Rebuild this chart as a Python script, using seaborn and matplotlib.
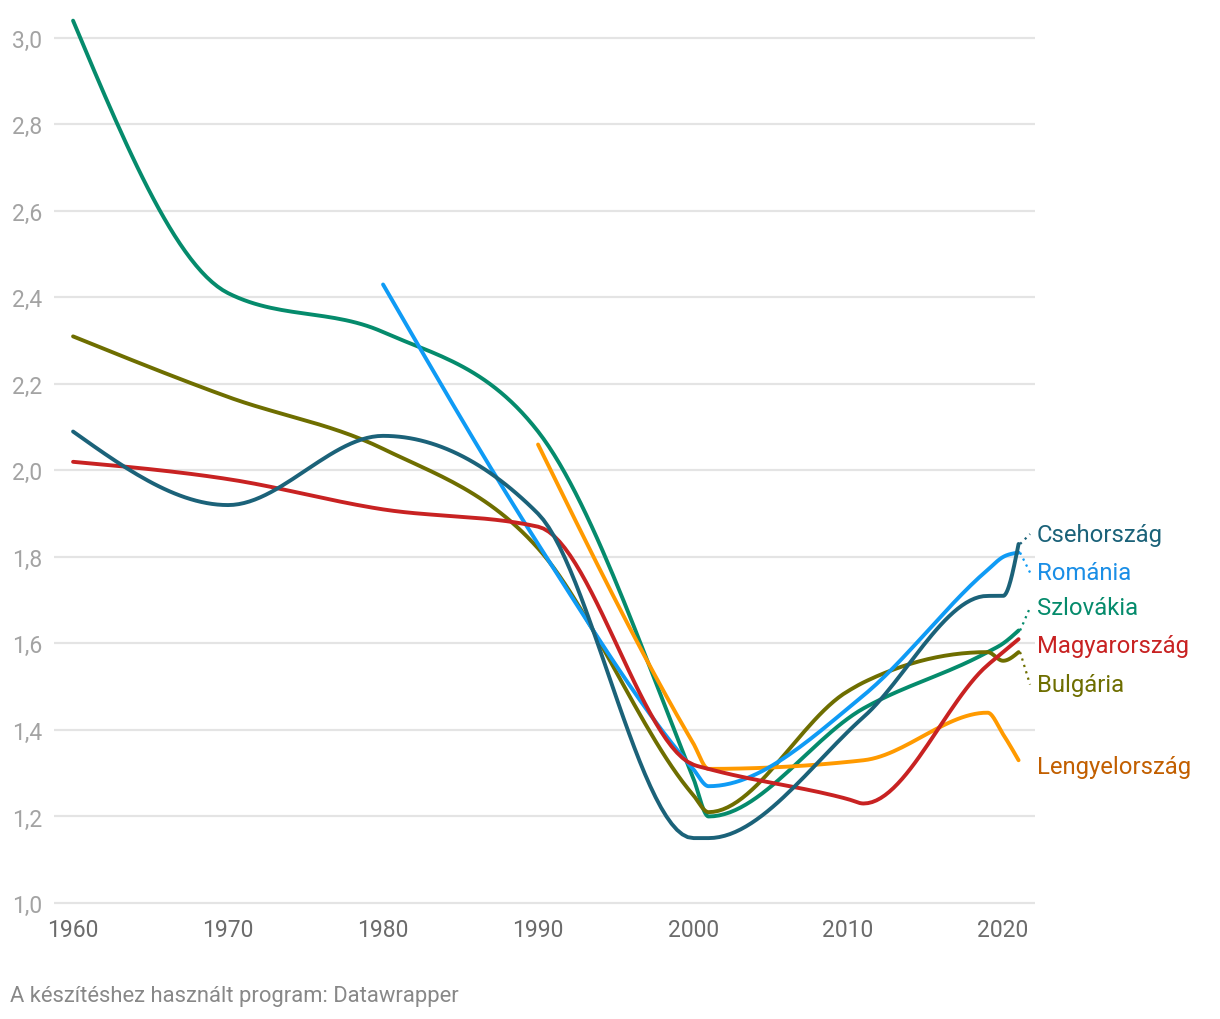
import matplotlib
matplotlib.use('Agg')
import matplotlib.pyplot as plt
import numpy as np
import pandas as pd
import seaborn as sns

# Teljes termékenységi arányszám - leolvasott értékek
years_cz = [1960, 1970, 1980, 1990, 2000, 2001, 2011, 2019, 2020, 2021]
cseh = [2.09, 1.92, 2.08, 1.90, 1.15, 1.15, 1.43, 1.71, 1.71, 1.83]

years_ro = [1980, 1990, 2000, 2001, 2011, 2019, 2020, 2021]
romania = [2.43, 1.83, 1.31, 1.27, 1.48, 1.77, 1.80, 1.81]

years_sk = [1960, 1970, 1980, 1990, 2000, 2001, 2011, 2019, 2020, 2021]
szlovakia = [3.04, 2.41, 2.32, 2.09, 1.29, 1.20, 1.45, 1.58, 1.60, 1.63]

years_hu = [1960, 1970, 1980, 1990, 2000, 2001, 2010, 2011, 2019, 2020, 2021]
magyar = [2.02, 1.98, 1.91, 1.87, 1.32, 1.31, 1.24, 1.23, 1.55, 1.58, 1.61]

years_bg = [1960, 1970, 1980, 1990, 2000, 2001, 2010, 2011, 2019, 2020, 2021]
bulgaria = [2.31, 2.17, 2.05, 1.82, 1.25, 1.21, 1.49, 1.51, 1.58, 1.56, 1.58]

years_pl = [1990, 2000, 2001, 2011, 2019, 2020, 2021]
lengyel = [2.06, 1.37, 1.31, 1.33, 1.44, 1.39, 1.33]

y_ticks = [1.0, 1.2, 1.4, 1.6, 1.8, 2.0, 2.2, 2.4, 2.6, 2.8, 3.0]
x_ticks = [1960, 1970, 1980, 1990, 2000, 2010, 2020]

series = {
    'Szlovákia': (years_sk, szlovakia),
    'Bulgária': (years_bg, bulgaria),
    'Lengyelország': (years_pl, lengyel),
    'Románia': (years_ro, romania),
    'Magyarország': (years_hu, magyar),
    'Csehország': (years_cz, cseh),
}
line_colors = {
    'Csehország': '#1b6279', 'Románia': '#0f9bf5', 'Szlovákia': '#058b6c',
    'Magyarország': '#c82222', 'Bulgária': '#6e6e00', 'Lengyelország': '#ff9a00',
}
text_colors = dict(line_colors, **{'Románia': '#1a8ee6', 'Lengyelország': '#c25f00'})
# címke helyzete (y) és kell-e pontozott összekötő
label_pos = {
    'Csehország': (1.853, True), 'Románia': (1.764, True), 'Szlovákia': (1.683, True),
    'Magyarország': (1.595, False), 'Bulgária': (1.505, True), 'Lengyelország': (1.315, False),
}


def monotone_curve(xs, ys, n=30):
    # d3 curveMonotoneX (Datawrapper görbe) kirajzolása bezier szakaszokkal
    xs = np.asarray(xs, float)
    ys = np.asarray(ys, float)
    k = len(xs)
    h = np.diff(xs)
    s = np.diff(ys) / h
    t = np.zeros(k)
    for i in range(1, k - 1):
        p = (s[i - 1] * h[i] + s[i] * h[i - 1]) / (h[i - 1] + h[i])
        t[i] = (np.sign(s[i - 1]) + np.sign(s[i])) * min(abs(s[i - 1]), abs(s[i]), 0.5 * abs(p))
    if k > 2:
        t[0] = (3 * s[0] - t[1]) / 2
        t[-1] = (3 * s[-1] - t[-2]) / 2
    else:
        t[:] = s[0]
    out_x, out_y = [], []
    u = np.linspace(0, 1, n)
    for i in range(k - 1):
        d = h[i] / 3
        y0, y1 = ys[i], ys[i] + d * t[i]
        y2, y3 = ys[i + 1] - d * t[i + 1], ys[i + 1]
        by = (1 - u) ** 3 * y0 + 3 * (1 - u) ** 2 * u * y1 + 3 * (1 - u) * u ** 2 * y2 + u ** 3 * y3
        out_x.extend(xs[i] + u * h[i])
        out_y.extend(by)
    return out_x, out_y


rows = []
for name, (yrs, vals) in series.items():
    cx, cy = monotone_curve(yrs, vals)
    rows.append(pd.DataFrame({'ev': cx, 'ertek': cy, 'orszag': name}))
df = pd.concat(rows, ignore_index=True)

sns.set_theme(style='white')
plt.rcParams['font.family'] = ['Roboto', 'DejaVu Sans']

fig = plt.figure(figsize=(12.2, 10.2), dpi=100)
ax = fig.add_axes([54 / 1220, (1020 - 908.3) / 1020, 981 / 1220, 895.3 / 1020])

sns.lineplot(data=df, x='ev', y='ertek', hue='orszag', hue_order=list(series.keys()),
             palette=line_colors, estimator=None, sort=False, legend=False,
             linewidth=2.8, ax=ax)

ax.set_xlim(1958.77, 2022.06)
ax.set_ylim(0.99, 3.06)
ax.set_yticks(y_ticks)
ax.set_yticklabels([f'{v:.1f}'.replace('.', ',') for v in y_ticks])
ax.set_xticks(x_ticks)
ax.set_xticklabels([str(v) for v in x_ticks])
ax.grid(axis='y', color='#e4e4e4', linewidth=1.6)
ax.grid(axis='x', visible=False)
ax.set_axisbelow(True)
ax.tick_params(axis='y', length=0, pad=8.5, labelsize=16.5, labelcolor='#a3a3a3')
ax.tick_params(axis='x', length=0, pad=8, labelsize=16.5, labelcolor='#6b6b6b')
ax.set_xlabel('')
ax.set_ylabel('')
sns.despine(ax=ax, left=True, bottom=True)

for name, (yrs, vals) in series.items():
    ly, connector = label_pos[name]
    if connector:
        ax.plot([yrs[-1] + 0.1, 2021.74], [vals[-1], ly], linestyle=(0, (1, 2)),
                linewidth=1.6, color=line_colors[name], clip_on=False)
    ax.text(2022.19, ly, name, color=text_colors[name], fontsize=17.2,
            ha='left', va='center', clip_on=False)

fig.text(10 / 1220, 1 - 997 / 1020, 'A készítéshez használt program: Datawrapper',
         fontsize=15.8, color='#888888', ha='left', va='center')

fig.savefig('out.png', dpi=100)
